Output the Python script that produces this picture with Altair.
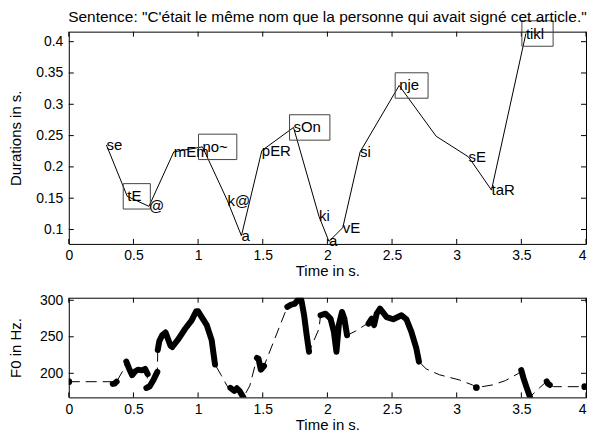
import altair as alt
import pandas as pd

TITLE = 'Sentence: "C\'était le même nom que la personne qui avait signé cet article."'

# ---------------- upper panel: syllable durations ----------------
syl_time = [0.291, 0.452, 0.620, 0.812, 1.034, 1.227, 1.335, 1.493, 1.738, 1.935,
            2.012, 2.119, 2.253, 2.555, 2.841, 3.091, 3.269, 3.535]
syl_dur = [0.235, 0.153, 0.137, 0.224, 0.232, 0.146, 0.090, 0.226, 0.263, 0.121,
           0.081, 0.103, 0.224, 0.330, 0.249, 0.216, 0.163, 0.413]
syl_label = ["se", "tE", "@", "mEm", "no~", "k@", "a", "pER", "sOn", "ki",
             "a", "vE", "si", "nje", "", "sE", "taR", "tikl"]
syl_boxed = [0, 1, 0, 0, 1, 0, 0, 0, 1, 0, 0, 0, 0, 1, 0, 0, 0, 1]

time_ticks = [0, 0.5, 1, 1.5, 2, 2.5, 3, 3.5, 4]
dur_ticks = [0.1, 0.15, 0.2, 0.25, 0.3, 0.35, 0.4]
f0_ticks = [200, 250, 300]

# ---------------- lower panel: F0 contour ----------------
# voiced stretches (thick)
voiced_t = [
    [0.0],
    [0.34, 0.355, 0.37],
    [0.445, 0.465, 0.49, 0.51, 0.535, 0.565, 0.59, 0.61],
    [0.60, 0.625, 0.655, 0.685],
    [0.688, 0.70, 0.722, 0.748, 0.786, 0.80, 0.85, 0.90, 0.95, 0.985, 1.0, 1.028, 1.067, 1.105, 1.131],
    [1.25, 1.28, 1.30, 1.32, 1.35],
    [1.455, 1.467, 1.485, 1.51],
    [1.69, 1.72, 1.745, 1.77, 1.789, 1.80, 1.82, 1.84, 1.858],
    [1.947, 1.985, 2.024, 2.05, 2.07, 2.088, 2.113, 2.131, 2.152],
    [2.318, 2.343, 2.361, 2.381, 2.407, 2.458, 2.509, 2.573, 2.611, 2.649, 2.688, 2.708],
    [3.152],
    [3.499, 3.517, 3.543, 3.568],
    [3.696, 3.705, 3.72],
    [3.99],
]
voiced_f0 = [
    [188.5],
    [185.5, 186, 188.5],
    [216, 207, 197.5, 202, 205, 204, 206, 199],
    [180, 182, 191, 202],
    [232, 244, 252, 256, 238, 236, 247.5, 261, 272.5, 285, 285, 277, 266, 245.5, 212],
    [180, 176, 179.5, 176, 167],
    [221, 220, 205, 210],
    [291, 294, 295, 300, 304.5, 299, 279.5, 252, 229.5],
    [279.5, 281.7, 275, 257, 229.5, 266, 284, 275, 252],
    [268, 275, 266, 281.7, 288.5, 277, 274, 279.5, 274, 257, 234, 216],
    [180.4],
    [204.5, 193, 179.4, 167],
    [189, 186, 184],
    [181.7],
]
# dashed interpolation anchors between one stretch and the next
gap_t = [
    [0.33], [0.416], [], [], [1.18, 1.23], [1.40], [], [1.935], [2.22, 2.29],
    [2.764, 2.866, 3.019, 3.122], [3.275, 3.377, 3.479], [3.581, 3.64], [3.75, 3.85], [4.0],
]
gap_f0 = [
    [188.5], [203], [], [], [197, 181], [183], [], [261], [258, 266],
    [206, 198, 191, 184], [184, 190, 200], [170, 180], [181.7, 181.7], [181.7],
]

# ---------------- layout / style ----------------
W, H1, H2 = 519, 213, 100
FONT = "Liberation Sans"
FS = 15          # in-plot labels and axis titles
FS_TICK = 14     # tick labels
FS_TITLE = 15.5  # sentence title
XDOM = [0, 4]
DUR_DOM = [0.077, 0.416]
F0_DOM = [167, 303.5]
TICK = 5

# approximate Arial advance widths (em) used to size the boxes round stressed syllables
CW = {"t": .278, "E": .667, "n": .556, "o": .556, "~": .584, "s": .5, "O": .778,
      "j": .222, "e": .556, "i": .222, "k": .5, "l": .222}


def text_w(s):
    return sum(CW.get(c, .556) for c in s) * FS


px_per_s = W / (XDOM[1] - XDOM[0])

syl = pd.DataFrame({"t": syl_time, "d": syl_dur, "label": syl_label, "boxed": syl_boxed})
syl["ord"] = range(len(syl))
boxes = syl[syl.boxed == 1].copy()
boxes["t2"] = boxes.t + (boxes.label.map(text_w) + 9) / px_per_s
labels = syl[syl.label != ""]

vrows, drows = [], []
k = 0
for i, (ts, fs) in enumerate(zip(voiced_t, voiced_f0)):
    for t, f in zip(ts, fs):
        vrows.append({"t": t, "f0": f, "seg": i, "n": len(ts)})
        drows.append({"t": t, "f0": f, "ord": k})
        k += 1
    for t, f in zip(gap_t[i], gap_f0[i]):
        drows.append({"t": t, "f0": f, "ord": k})
        k += 1
voiced = pd.DataFrame(vrows)
dashed = pd.DataFrame(drows)
lines = voiced[voiced.n > 1]
dots = voiced[voiced.n == 1]

xs = alt.Scale(domain=XDOM, nice=False, zero=False)
ys1 = alt.Scale(domain=DUR_DOM, nice=False, zero=False)
ys2 = alt.Scale(domain=F0_DOM, nice=False, zero=False)

LAST_TICK = time_ticks[-1]


def x_axis():
    return alt.Axis(
        values=time_ticks, format="~g", labelPadding=5, labelFlush=False,
        labelAlign={"condition": {"test": f"datum.value >= {LAST_TICK}", "value": "right"},
                    "value": "center"},
        title="Time in s.", titleY=20)


def X():
    return alt.X("t:Q", scale=xs, axis=x_axis())


ax_y1 = alt.Axis(values=dur_ticks, format=".2~f", labelPadding=6, labelFlush=False,
                 title="Durations in s.", titleX=-45)
ax_y2 = alt.Axis(values=f0_ticks, format="d", labelPadding=6, labelFlush=False,
                 title="F0 in Hz.", titleX=-45)


def frame_ticks(h, yfield, ydf, yscale, yaxis):
    xt = alt.Chart(pd.DataFrame({"t": time_ticks}))
    yt = alt.Chart(ydf)
    Y = alt.Y(f"{yfield}:Q", scale=yscale, axis=yaxis)
    return [
        xt.mark_rule(color="black").encode(x=X(), y=alt.value(0), y2=alt.value(TICK)),
        xt.mark_rule(color="black").encode(x=X(), y=alt.value(h - TICK), y2=alt.value(h)),
        yt.mark_rule(color="black").encode(y=Y, x=alt.value(0), x2=alt.value(TICK)),
        yt.mark_rule(color="black").encode(y=Y, x=alt.value(W - TICK), x2=alt.value(W)),
    ]


Y1 = alt.Y("d:Q", scale=ys1, axis=ax_y1)
top_line = alt.Chart(syl).mark_line(color="black", strokeWidth=1).encode(
    x=X(), y=Y1, order="ord:Q")
top_boxes = alt.Chart(boxes).mark_rect(
    fill=None, fillOpacity=0, stroke="#444444", strokeWidth=1,
    xOffset=-4, yOffset=-12.75, y2Offset=12.75).encode(
    x=X(), x2="t2:Q", y=Y1, y2="d:Q")
top_text = alt.Chart(labels).mark_text(
    align="left", baseline="middle", font=FONT, fontSize=FS, color="black").encode(
    x=X(), y=Y1, text="label:N")
title_text = alt.Chart(pd.DataFrame({"title": [TITLE]})).mark_text(
    align="center", baseline="alphabetic", font=FONT, fontSize=FS_TITLE, color="black").encode(
    x=alt.value(W / 2), y=alt.value(-10), text="title:N")

top = alt.layer(
    *frame_ticks(H1, "d", pd.DataFrame({"d": dur_ticks}), ys1, ax_y1),
    top_line, top_boxes, top_text, title_text,
).properties(width=W, height=H1)

Y2 = alt.Y("f0:Q", scale=ys2, axis=ax_y2)
f0_dashed = alt.Chart(dashed).mark_line(
    color="black", strokeWidth=1, strokeDash=[11, 6], clip=True).encode(
    x=X(), y=Y2, order="ord:Q")
f0_thick = alt.Chart(lines).mark_line(
    color="black", strokeWidth=6, strokeCap="round", strokeJoin="round", clip=True).encode(
    x=X(), y=Y2, detail="seg:N", order="t:Q")
f0_dots = alt.Chart(dots).mark_circle(color="black", opacity=1, size=45, clip=True).encode(
    x=X(), y=Y2)

bottom = alt.layer(
    *frame_ticks(H2, "f0", pd.DataFrame({"f0": f0_ticks}), ys2, ax_y2),
    f0_dashed, f0_thick, f0_dots,
).properties(width=W, height=H2)

chart = alt.vconcat(top, bottom, spacing=13).properties(
    padding={"left": 0, "top": 0, "right": 0, "bottom": 0}
).configure_axis(
    labelFont=FONT, labelFontSize=FS_TICK, labelColor="black",
    titleFont=FONT, titleFontSize=FS, titleFontWeight="normal", titleColor="black",
    domain=False, grid=False, ticks=False, tickSize=0,
).configure_view(stroke="black", strokeWidth=1)

chart.save("out.html", embed_options={"renderer": "svg", "actions": False})
